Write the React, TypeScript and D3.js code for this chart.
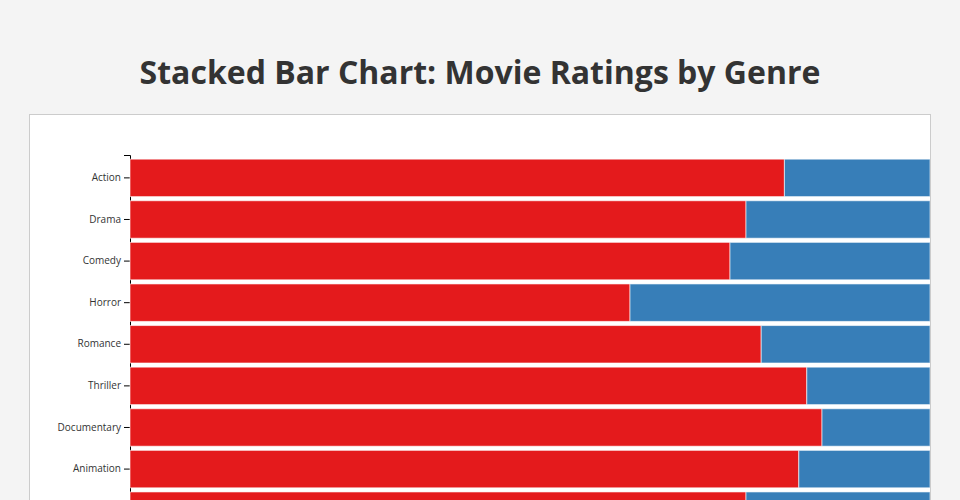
import React, { useEffect, useRef } from "react";
import * as d3 from "d3";

const genres = ["Action", "Drama", "Comedy", "Horror", "Romance", "Thriller", "Documentary", "Animation", "Sci-Fi", "Fantasy"];
const positive = [81.8, 77.0, 75.0, 62.5, 78.9, 84.6, 86.5, 83.6, 77.0, 80.0];
const negative = [18.2, 23.0, 25.0, 37.5, 21.1, 15.4, 13.5, 16.4, 23.0, 20.0];
const seriesKeys = ["positive", "negative"];
const seriesColors = ["#e41a1c", "#377eb8"];

export default function App() {
  const ref = useRef<SVGSVGElement>(null);

  useEffect(() => {
    const svg = d3.select(ref.current);
    svg.selectAll("*").remove();

    const W = 960, H = 500;
    svg.append("rect").attr("width", W).attr("height", H).attr("fill", "#f4f4f4");

    svg.append("text")
      .attr("x", 480).attr("y", 84)
      .attr("text-anchor", "middle")
      .attr("font-family", "'Open Sans', sans-serif")
      .attr("font-weight", 700)
      .attr("font-size", 32)
      .attr("fill", "#333")
      .text("Stacked Bar Chart: Movie Ratings by Genre");

    // panel
    svg.append("rect")
      .attr("x", 29.5).attr("y", 114.5)
      .attr("width", 901).attr("height", 600)
      .attr("fill", "#fff").attr("stroke", "#ccc").attr("stroke-width", 1);

    const data = genres.map((g, i) => ({ genre: g, positive: positive[i], negative: negative[i] }));
    const stack = d3.stack<any>().keys(seriesKeys);
    const layers = stack(data);

    const step = 41.6;
    const x = d3.scaleLinear().domain([0, 100]).range([130, 930]);
    const y = d3.scaleBand().domain(genres).range([155, 155 + step * (genres.length + 0.1)]).padding(0.1);

    const clip = svg.append("defs").append("clipPath").attr("id", "pclip");
    clip.append("rect").attr("x", 30).attr("y", 115).attr("width", 900).attr("height", 600);

    const g = svg.append("g").attr("clip-path", "url(#pclip)");

    const axis = g.append("g")
      .attr("transform", "translate(130,0)")
      .call(d3.axisLeft(y));
    axis.selectAll("text")
      .attr("font-family", "'Open Sans', sans-serif")
      .attr("font-size", 10)
      .attr("fill", "#333");
    axis.select(".domain").attr("stroke", "#000");

    g.selectAll("g.layer")
      .data(layers)
      .join("g")
      .attr("class", "layer")
      .attr("fill", (_d, i) => seriesColors[i])
      .selectAll("rect")
      .data((d) => d)
      .join("rect")
      .attr("x", (d: any) => x(d[0]))
      .attr("y", (d: any) => y(d.data.genre)!)
      .attr("width", (d: any) => x(d[1]) - x(d[0]))
      .attr("height", y.bandwidth())
      .attr("stroke", "#fff")
      .attr("stroke-opacity", 0.6)
      .attr("stroke-width", 1);
  }, []);

  return (
    <svg
      ref={ref}
      width={960}
      height={500}
      style={{ position: "absolute", left: 0, top: 0, display: "block" }}
    />
  );
}
